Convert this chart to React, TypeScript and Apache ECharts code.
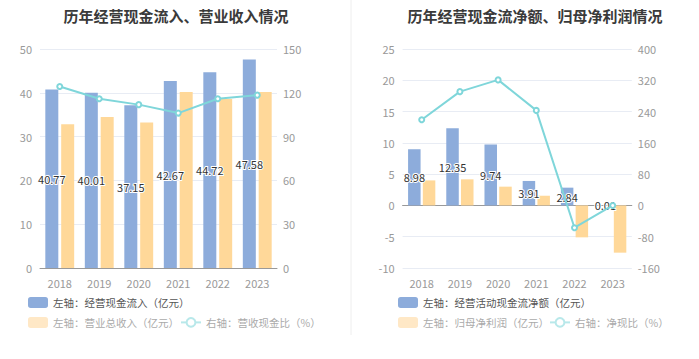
import React, { useEffect, useRef } from "react";
import * as echarts from "echarts";

const years = ["2018", "2019", "2020", "2021", "2022", "2023"];
const cashInflow = [40.77, 40.01, 37.15, 42.67, 44.72, 47.58];
const revenue = [32.8, 34.5, 33.2, 40.2, 38.6, 40.2];
const cashRevenueRatio = [124.3, 115.9, 111.9, 106.1, 115.9, 118.4];

const netCashFlow = [8.98, 12.35, 9.74, 3.91, 2.84, 0.01];
const netProfit = [4.0, 4.17, 3.0, 1.55, -5.1, -7.55];
const netCashRatio = [219, 291, 321, 243, -57, 0];

const BLUE = "#8DACDB";
const ORANGE = "#FFD899";
const CYAN = "#7FD6DA";
const FONT = "'Noto Sans CJK SC', 'Noto Sans', sans-serif";

export default function App() {
  const ref = useRef<HTMLDivElement>(null);
  useEffect(() => {
    document.body.style.margin = "0";
    const chart = echarts.init(ref.current!, null, { renderer: "svg" });
    const axisLabel = { color: "#999", fontSize: 11, fontFamily: FONT };
    const splitLine = { lineStyle: { color: "#E8ECF4" } };
    const barLabel = {
      show: true,
      position: "inside",
      color: "#333",
      fontSize: 11,
      fontFamily: FONT,
      textBorderColor: "#fff",
      textBorderWidth: 2,
    };
    const legendText = { color: "#555", fontSize: 10.5, fontFamily: FONT };
    const legendTextLight = { color: "#aaa", fontSize: 10.5, fontFamily: FONT };
    const lg = (name: string, left: number, top: number, light: boolean, isLine = false) => ({
      data: [
        light
          ? isLine
            ? { name, itemStyle: { color: "#B8E8EA", borderColor: "#B8E8EA" }, lineStyle: { color: "#B8E8EA" }, textStyle: legendTextLight }
            : { name, itemStyle: { color: "#FFE8C6" }, textStyle: legendTextLight }
          : { name },
      ],
      left,
      top,
      padding: 0,
      itemWidth: 20,
      itemHeight: 11,
      textStyle: light ? legendTextLight : legendText,
    });
    chart.setOption({
      animation: false,
      textStyle: { fontFamily: FONT },
      title: [
        {
          text: "历年经营现金流入、营业收入情况",
          left: 171,
          textAlign: "center",
          top: 3,
          textStyle: { fontSize: 15, fontWeight: "bold", color: "#3a3a3a", fontFamily: FONT },
        },
        {
          text: "历年经营现金流净额、归母净利润情况",
          left: 530,
          textAlign: "center",
          top: 3,
          textStyle: { fontSize: 15, fontWeight: "bold", color: "#3a3a3a", fontFamily: FONT },
        },
      ],
      graphic: [
        {
          type: "line",
          shape: { x1: 351, y1: 0, x2: 351, y2: 335 },
          style: { stroke: "#EEEEEE", lineWidth: 1 },
        },
      ],
      legend: [
        lg("左轴：经营现金流入（亿元）", 28, 297, false),
        lg("左轴：营业总收入（亿元）", 28, 317, true),
        lg("右轴：营收现金比（%）", 180, 317, true, true),
        lg("左轴：经营活动现金流净额（亿元）", 398, 297, false),
        lg("左轴：归母净利润（亿元）", 398, 317, true),
        lg("右轴：净现比（%）", 549, 317, true, true),
      ],
      grid: [
        { left: 40, top: 49, width: 237, height: 219 },
        { left: 402.6, top: 49, width: 229.2, height: 219 },
      ],
      xAxis: [
        {
          type: "category",
          gridIndex: 0,
          data: years,
          axisLine: { lineStyle: { color: "#999" } },
          axisTick: { alignWithLabel: true, length: 4, lineStyle: { color: "#999" } },
          axisLabel: { ...axisLabel, margin: 9 },
        },
        {
          type: "category",
          gridIndex: 1,
          data: years,
          axisLine: { onZero: true, lineStyle: { color: "#999" } },
          axisTick: { alignWithLabel: true, length: 4, lineStyle: { color: "#999" } },
          axisLabel: { show: false },
        },
        {
          type: "category",
          gridIndex: 1,
          data: years,
          position: "bottom",
          axisLine: { show: false, onZero: false },
          axisTick: { show: false },
          axisLabel: { ...axisLabel, margin: 9 },
        },
      ],
      yAxis: [
        {
          type: "value",
          gridIndex: 0,
          min: 0,
          max: 50,
          interval: 10,
          axisLine: { show: false },
          axisTick: { show: false },
          axisLabel: { ...axisLabel, margin: 8 },
          splitLine,
        },
        {
          type: "value",
          gridIndex: 0,
          min: 0,
          max: 150,
          interval: 30,
          position: "right",
          axisLine: { show: false },
          axisTick: { show: false },
          axisLabel: { ...axisLabel, margin: 6 },
          splitLine: { show: false },
        },
        {
          type: "value",
          gridIndex: 1,
          min: -10,
          max: 25,
          interval: 5,
          axisLine: { show: false },
          axisTick: { show: false },
          axisLabel: { ...axisLabel, margin: 8 },
          splitLine,
        },
        {
          type: "value",
          gridIndex: 1,
          min: -160,
          max: 400,
          interval: 80,
          position: "right",
          axisLine: { show: false },
          axisTick: { show: false },
          axisLabel: { ...axisLabel, margin: 6 },
          splitLine: { show: false },
        },
      ],
      series: [
        {
          name: "左轴：经营现金流入（亿元）",
          type: "bar",
          xAxisIndex: 0,
          yAxisIndex: 0,
          data: cashInflow,
          barWidth: 13,
          barGap: "22%",
          itemStyle: { color: BLUE },
          label: barLabel,
        },
        {
          name: "左轴：营业总收入（亿元）",
          type: "bar",
          xAxisIndex: 0,
          yAxisIndex: 0,
          data: revenue,
          barWidth: 13,
          barGap: "22%",
          itemStyle: { color: ORANGE },
        },
        {
          name: "右轴：营收现金比（%）",
          type: "line",
          xAxisIndex: 0,
          yAxisIndex: 1,
          data: cashRevenueRatio,
          symbol: "emptyCircle",
          symbolSize: 5,
          itemStyle: { color: CYAN },
          lineStyle: { color: CYAN, width: 2 },
        },
        {
          name: "左轴：经营活动现金流净额（亿元）",
          type: "bar",
          xAxisIndex: 1,
          yAxisIndex: 2,
          data: netCashFlow,
          barWidth: 12.5,
          barGap: "18%",
          itemStyle: { color: BLUE },
          label: barLabel,
        },
        {
          name: "左轴：归母净利润（亿元）",
          type: "bar",
          xAxisIndex: 1,
          yAxisIndex: 2,
          data: netProfit,
          barWidth: 12.5,
          barGap: "18%",
          itemStyle: { color: ORANGE },
        },
        {
          name: "右轴：净现比（%）",
          type: "line",
          xAxisIndex: 1,
          yAxisIndex: 3,
          data: netCashRatio,
          symbol: "emptyCircle",
          symbolSize: 5,
          itemStyle: { color: CYAN },
          lineStyle: { color: CYAN, width: 2 },
        },
      ],
    });
    return () => chart.dispose();
  }, []);
  return <div ref={ref} style={{ width: 699, height: 359 }} />;
}
